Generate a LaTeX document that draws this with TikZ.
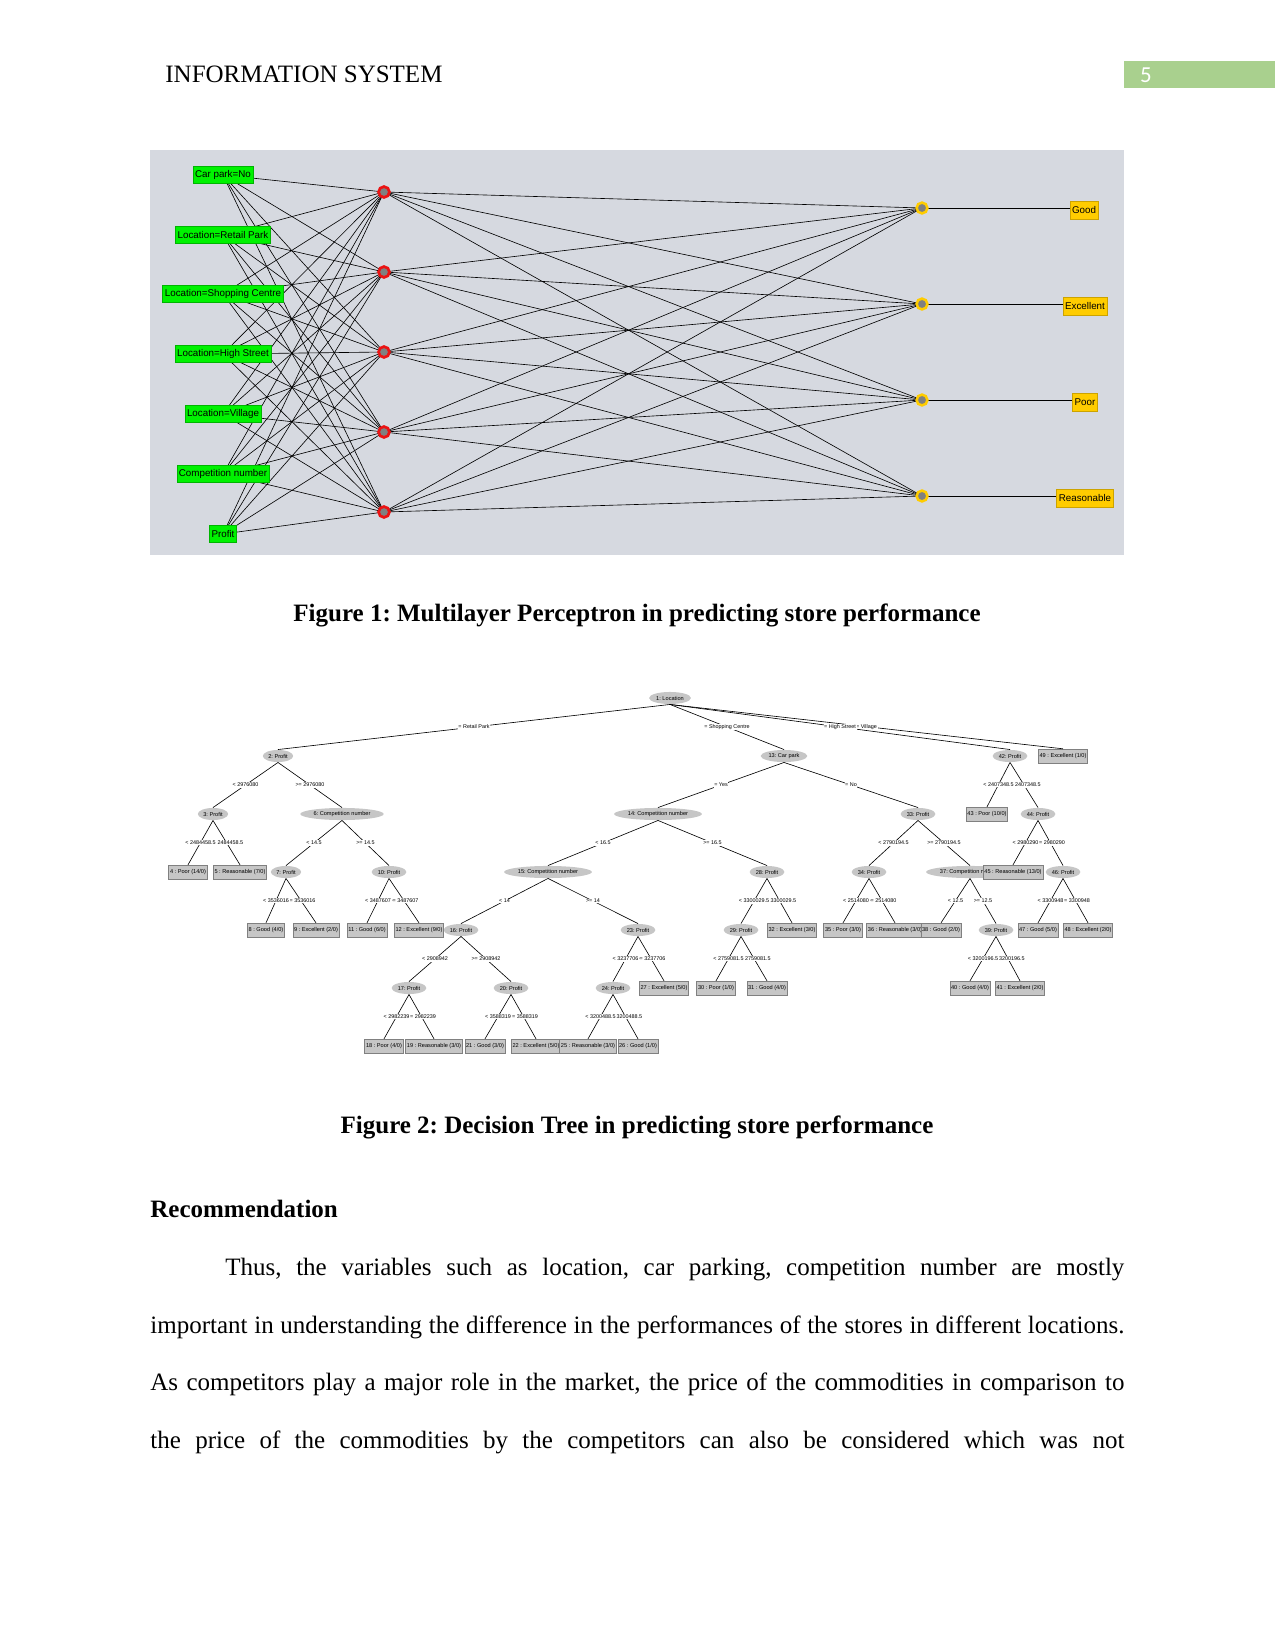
\documentclass[tikz,border=0pt]{standalone}
\usepackage{fontspec}
\setmainfont{Liberation Serif}
\newfontfamily\wekafont{Liberation Sans}
\newfontfamily\barfont{Carlito}
\usetikzlibrary{shapes.geometric}
\frenchspacing

\definecolor{mlpbg}{RGB}{214,217,224}
\definecolor{ingreen}{RGB}{0,242,0}
\definecolor{outgold}{RGB}{255,204,0}
\definecolor{unitred}{RGB}{235,20,20}
\definecolor{unitgray}{RGB}{128,128,128}
\definecolor{headbar}{RGB}{169,208,142}
\definecolor{treegray}{RGB}{198,198,198}

\pgfdeclarelayer{back}
\pgfdeclarelayer{background}
\pgfsetlayers{back,background,main}

\begin{document}
\begin{tikzpicture}[
    x=0.48pt, y=-0.48pt,
    inbox/.style={rectangle, draw=ingreen!75!black, fill=ingreen, line width=0.3pt, inner xsep=1pt, inner ysep=0pt, minimum height=8.2pt, font=\wekafont\fontsize{4.7}{5}\selectfont},
    outbox/.style={rectangle, draw=outgold!80!black, fill=outgold, line width=0.3pt, inner xsep=1pt, inner ysep=0pt, minimum height=8.6pt, font=\wekafont\fontsize{4.7}{5}\selectfont},
    hidden/.style={circle, draw=unitred, fill=unitgray, line width=1.3pt, minimum size=5.2pt, inner sep=0pt},
    outunit/.style={circle, draw=outgold, fill=unitgray, line width=1.2pt, minimum size=5.2pt, inner sep=0pt},
    wire/.style={line width=0.3pt},
    dec/.style={ellipse, fill=treegray, inner xsep=0.5pt, inner ysep=0pt, minimum height=5.8pt, font=\wekafont\fontsize{2.7}{3}\selectfont},
    leaf/.style={rectangle, fill=treegray, draw=gray, line width=0.3pt, inner xsep=0.6pt, inner ysep=0pt, minimum height=6.6pt, font=\wekafont\fontsize{2.7}{3}\selectfont},
    elab/.style={fill=white, inner sep=0.3pt, font=\wekafont\fontsize{2.6}{3}\selectfont},
    branch/.style={line width=0.3pt},
    caption/.style={font=\bfseries\fontsize{12}{14}\selectfont, anchor=base},
]
    \useasboundingbox (0,0) rectangle (1275,1651);

    % running head
    \node[anchor=base west, inner sep=0pt, font=\fontsize{12}{14}\selectfont] (runhead) at (165,83) {INFORMATION SYSTEM};
    \node[anchor=north west, fill=headbar, inner sep=0pt, minimum width=72.5pt, minimum height=13pt] (pagebar) at (1124,61) {};
    \node[text=white, inner sep=0pt, font=\barfont\fontsize{11}{13}\selectfont] (pageno) at (1146,75) {5};

    % figure 1: multilayer perceptron
    \begin{pgfonlayer}{back}
        \fill[mlpbg] (150,150) rectangle (1124,555);
    \end{pgfonlayer}

    \node[inbox] (cp) at (223,175) {Car park=No};
    \node[inbox] (rp) at (223,235) {Location=Retail Park};
    \node[inbox] (sc) at (223,294) {Location=Shopping Centre};
    \node[inbox] (hs) at (223,354) {Location=High Street};
    \node[inbox] (vl) at (223,414) {Location=Village};
    \node[inbox] (cn) at (223,474) {Competition number};
    \node[inbox] (pf) at (223,534) {Profit};

    \foreach \i/\y in {1/192, 2/272, 3/352, 4/432, 5/512}
        \node[hidden] (h\i) at (384,\y) {};

    \foreach \i/\y in {1/208, 2/304, 3/400, 4/496}
        \node[outunit] (o\i) at (922,\y) {};

    \node[outbox] (good) at (1084,210) {Good};
    \node[outbox] (exc) at (1085,306) {Excellent};
    \node[outbox] (poor) at (1085,402) {Poor};
    \node[outbox] (reas) at (1085,498) {Reasonable};

    \begin{pgfonlayer}{background}
        \foreach \a in {cp,rp,sc,hs,vl,cn,pf}
            \foreach \h in {1,...,5}
                \draw[wire] (\a.center) -- (h\h.center);
        \foreach \h in {1,...,5}
            \foreach \o in {1,...,4}
                \draw[wire] (h\h.center) -- (o\o.center);
        \foreach \o/\l in {1/good, 2/exc, 3/poor, 4/reas}
            \draw[wire] (o\o.center) -- (o\o.center -| \l.west);
    \end{pgfonlayer}

    \node[caption] (cap1) at (637,621) {Figure 1: Multilayer Perceptron in predicting store performance};

    % figure 2: decision tree
    \node[dec] (n1) at (670,698) {1: Location};
    \node[dec] (n2) at (278,756) {2: Profit};
    \node[dec] (n13) at (784,756) {13: Car park};
    \node[dec] (n42) at (1010,756) {42: Profit};
    \node[dec] (n3) at (213,814) {3: Profit};
    \node[dec] (n6) at (342,814) {6: Competition number};
    \node[dec] (n14) at (658,814) {14: Competition number};
    \node[dec] (n33) at (918,814) {33: Profit};
    \node[dec] (n44) at (1038,814) {44: Profit};
    \node[dec] (n7) at (286,872) {7: Profit};
    \node[dec] (n10) at (389,872) {10: Profit};
    \node[dec] (n15) at (548,872) {15: Competition number};
    \node[dec] (n28) at (767,872) {28: Profit};
    \node[dec] (n34) at (869,872) {34: Profit};
    \node[dec] (n37) at (970,872) {37: Competition number};
    \node[dec] (n46) at (1063,872) {46: Profit};
    \node[dec] (n16) at (461,930) {16: Profit};
    \node[dec] (n23) at (638,930) {23: Profit};
    \node[dec] (n29) at (741,930) {29: Profit};
    \node[dec] (n39) at (996,930) {39: Profit};
    \node[dec] (n17) at (409,988) {17: Profit};
    \node[dec] (n20) at (511,988) {20: Profit};
    \node[dec] (n24) at (613,988) {24: Profit};

    \node[leaf] (l49) at (1063,756) {49 : Excellent (1/0)};
    \node[leaf] (l43) at (987,814) {43 : Poor (10/0)};
    \node[leaf] (l4) at (188,872) {4 : Poor (14/0)};
    \node[leaf] (l5) at (240,872) {5 : Reasonable (7/0)};
    \node[leaf] (l45) at (1013,872) {45 : Reasonable (13/0)};
    \node[leaf] (l8) at (266,930) {8 : Good (4/0)};
    \node[leaf] (l9) at (316,930) {9 : Excellent (2/0)};
    \node[leaf] (l11) at (367,930) {11 : Good (6/0)};
    \node[leaf] (l12) at (419,930) {12 : Excellent (9/0)};
    \node[leaf] (l32) at (792,930) {32 : Excellent (3/0)};
    \node[leaf] (l35) at (843,930) {35 : Poor (3/0)};
    \node[leaf] (l36) at (895,930) {36 : Reasonable (3/0)};
    \node[leaf] (l38) at (941,930) {38 : Good (2/0)};
    \node[leaf] (l47) at (1038,930) {47 : Good (5/0)};
    \node[leaf] (l48) at (1088,930) {48 : Excellent (2/0)};
    \node[leaf] (l27) at (664,988) {27 : Excellent (5/0)};
    \node[leaf] (l30) at (716,988) {30 : Poor (1/0)};
    \node[leaf] (l31) at (767,988) {31 : Good (4/0)};
    \node[leaf] (l40) at (970,988) {40 : Good (4/0)};
    \node[leaf] (l41) at (1020,988) {41 : Excellent (2/0)};
    \node[leaf] (l18) at (384,1046) {18 : Poor (4/0)};
    \node[leaf] (l19) at (434,1046) {19 : Reasonable (3/0)};
    \node[leaf] (l21) at (485,1046) {21 : Good (3/0)};
    \node[leaf] (l22) at (536,1046) {22 : Excellent (5/0)};
    \node[leaf] (l25) at (588,1046) {25 : Reasonable (3/0)};
    \node[leaf] (l26) at (638,1046) {26 : Good (1/0)};

    \foreach \a/\b/\t in {
        n1/l49/{= Village}, n1/n42/{= High Street}, n1/n13/{= Shopping Centre}, n1/n2/{= Retail Park},
        n2/n6/{>= 2976080}, n2/n3/{< 2976080},
        n3/l5/{>= 2484458.5}, n3/l4/{< 2484458.5},
        n6/n10/{>= 14.5}, n6/n7/{< 14.5},
        n7/l9/{>= 3536016}, n7/l8/{< 3536016},
        n10/l12/{>= 3487607}, n10/l11/{< 3487607},
        n13/n33/{= No}, n13/n14/{= Yes},
        n14/n28/{>= 16.5}, n14/n15/{< 16.5},
        n15/n23/{>= 14}, n15/n16/{< 14},
        n16/n20/{>= 2908942}, n16/n17/{< 2908942},
        n17/l19/{>= 2982239}, n17/l18/{< 2982239},
        n20/l22/{>= 3588319}, n20/l21/{< 3588319},
        n23/l27/{>= 3237706}, n23/n24/{< 3237706},
        n24/l26/{>= 3200488.5}, n24/l25/{< 3200488.5},
        n28/l32/{>= 3300029.5}, n28/n29/{< 3300029.5},
        n29/l31/{>= 2759081.5}, n29/l30/{< 2759081.5},
        n33/n37/{>= 2790194.5}, n33/n34/{< 2790194.5},
        n34/l36/{>= 2514080}, n34/l35/{< 2514080},
        n37/n39/{>= 12.5}, n37/l38/{< 12.5},
        n39/l41/{>= 3200196.5}, n39/l40/{< 3200196.5},
        n42/n44/{>= 2407348.5}, n42/l43/{< 2407348.5},
        n44/n46/{>= 2980290}, n44/l45/{< 2980290},
        n46/l48/{>= 3300948}, n46/l47/{< 3300948}}
        \draw[branch] (\a.south) -- node[elab] {\t} (\b.north);

    \node[caption] (cap2) at (637,1133) {Figure 2: Decision Tree in predicting store performance};

    % body text
    \node[anchor=base west, inner sep=0pt, font=\bfseries\fontsize{12}{14}\selectfont] (rechead) at (150,1217) {Recommendation};
    \node[anchor=north west, inner sep=0pt, text width=467.5pt, align=justify, font=\fontsize{12}{27.6}\selectfont] (para) at (150,1258)
        {\hspace*{36pt}Thus, the variables such as location, car parking, competition number are mostly\linebreak
        important in understanding the difference in the performances of the stores in different locations.\linebreak
        As competitors play a major role in the market, the price of the commodities in comparison to\linebreak
        the price of the commodities by the competitors can also be considered which was not\parfillskip=0pt\par};
\end{tikzpicture}
\end{document}
